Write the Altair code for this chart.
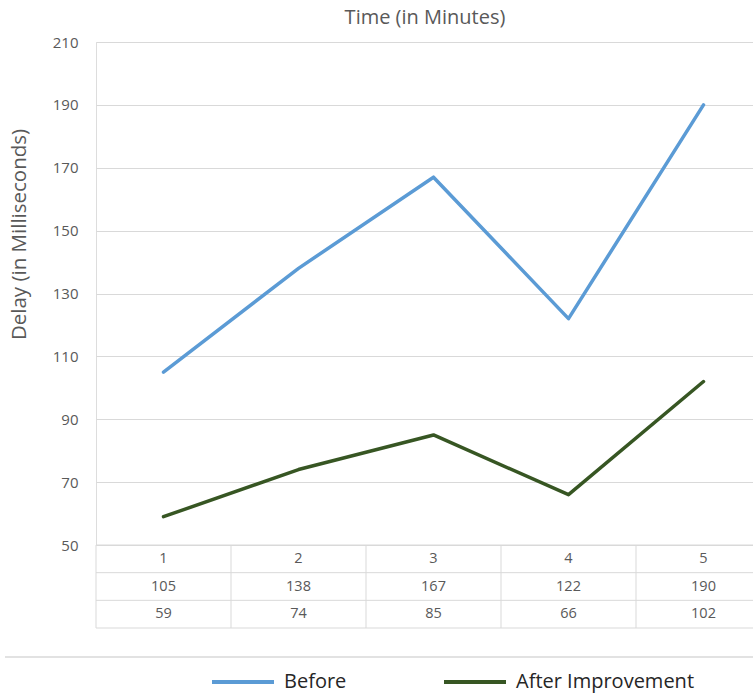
import altair as alt
import pandas as pd

minutes = [1, 2, 3, 4, 5]
before = [105, 138, 167, 122, 190]
after = [59, 74, 85, 66, 102]
series_names = ["Before", "After Improvement"]
series_colors = ["#5b9bd5", "#375623"]
y_ticks = [50, 70, 90, 110, 130, 150, 170, 190, 210]

W, H = 657, 503
TABLE_TOP, TABLE_BOTTOM = 503, 586
TEXT = "#595959"
GRID = "#d9d9d9"
FONT = "Open Sans"

lines_df = pd.DataFrame(
    [{"minute": m, "series": series_names[0], "delay": v} for m, v in zip(minutes, before)]
    + [{"minute": m, "series": series_names[1], "delay": v} for m, v in zip(minutes, after)]
)

table_rows = []
for m, b, a in zip(minutes, before, after):
    table_rows.append({"minute": m, "row": 0.5, "label": str(m)})
    table_rows.append({"minute": m, "row": 1.5, "label": str(b)})
    table_rows.append({"minute": m, "row": 2.5, "label": str(a)})
table_df = pd.DataFrame(table_rows)

hline_df = pd.DataFrame({"row": [0, 1, 2, 3]})
vline_df = pd.DataFrame({"minute": [m - 0.5 for m in minutes]})

x_scale = alt.Scale(domain=[0.5, 0.5 + W / 135.0], nice=False, zero=False)
row_scale = alt.Scale(domain=[0, 3], range=[TABLE_TOP, TABLE_BOTTOM], nice=False, zero=False)

x_axis = alt.Axis(orient="top", title="Time (in Minutes)", labels=False, ticks=False,
                  domain=False, grid=False, titleY=-25, titleBaseline="middle",
                  titleFontSize=20, titleFontWeight="normal", titleColor=TEXT)

lines = alt.Chart(lines_df).mark_line(strokeWidth=3.5, strokeCap="round", strokeJoin="round").encode(
    x=alt.X("minute:Q", scale=x_scale, axis=x_axis),
    y=alt.Y("delay:Q", scale=alt.Scale(domain=[50, 210], nice=False, zero=False),
            axis=alt.Axis(values=y_ticks, title="Delay (in Milliseconds)", grid=True, gridColor=GRID,
                          domain=False, ticks=False, labelPadding=18, labelFontSize=15,
                          labelColor=TEXT, titleFontSize=20.5, titleFontWeight="normal",
                          titleColor=TEXT, titleX=-77, titleY=192, titleAngle=270,
                          titleBaseline="middle", titleAlign="center")),
    color=alt.Color("series:N", scale=alt.Scale(domain=series_names, range=series_colors),
                    legend=alt.Legend(orient="none", legendX=114, legendY=607, direction="horizontal",
                                      title=None, symbolType="stroke", symbolSize=3844,
                                      symbolStrokeWidth=4, labelFontSize=20, labelColor="#262626",
                                      labelOffset=8, labelLimit=400, columnPadding=89, padding=0)),
    order=alt.Order("minute:Q"),
)

table_text = alt.Chart(table_df).mark_text(fontSize=14.5, color=TEXT, baseline="middle").encode(
    x=alt.X("minute:Q", scale=x_scale, axis=x_axis),
    y=alt.Y("row:Q", scale=row_scale, axis=None),
    text="label:N",
)

hlines = alt.Chart(hline_df).mark_rule(color=GRID, strokeWidth=1).encode(
    y=alt.Y("row:Q", scale=row_scale, axis=None),
    x=alt.value(0),
    x2=alt.value(W),
)

vlines = alt.Chart(vline_df).mark_rule(color=GRID, strokeWidth=1).encode(
    x=alt.X("minute:Q", scale=x_scale, axis=x_axis),
    y=alt.value(TABLE_TOP),
    y2=alt.value(TABLE_BOTTOM),
)

separator = alt.Chart(alt.Data(values=[{"k": 1}])).mark_rule(color=GRID, strokeWidth=1.5).encode(
    x=alt.value(-91),
    x2=alt.value(W),
    y=alt.value(615),
)

chart = alt.layer(hlines, vlines, separator, table_text, lines).resolve_scale(
    y="independent"
).properties(
    width=W,
    height=H,
    autosize=alt.AutoSizeParams(type="none"),
    padding={"left": 96, "top": 42, "right": 0, "bottom": 148},
).configure_view(stroke=None).configure(font=FONT)

chart.save("out.html", embed_options={"renderer": "svg", "actions": False})
